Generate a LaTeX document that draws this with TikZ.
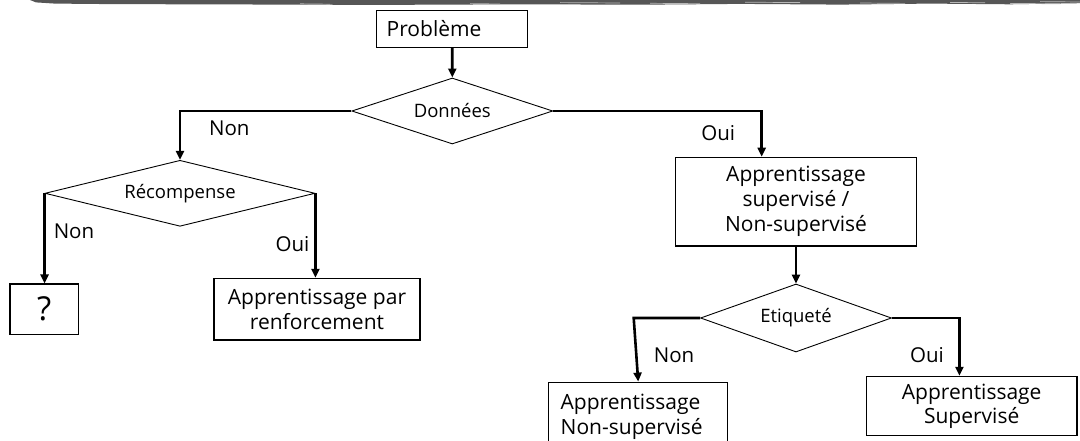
\documentclass[tikz,border=0pt]{standalone}
\usepackage{fontspec}
\setmainfont{Open Sans}
\usetikzlibrary{shapes.geometric,arrows.meta}
\definecolor{bargray}{HTML}{565656}
\definecolor{barlight}{HTML}{B8B8B8}
\begin{document}
\begin{tikzpicture}[x=1pt,y=-1pt,
  box/.style={draw, line width=1.2pt, inner sep=0pt, align=center,
    font=\fontsize{21}{25}\selectfont},
  choice/.style={diamond, draw, line width=0.9pt, inner sep=0pt, aspect=3,
    font=\fontsize{18.5}{22}\selectfont},
  lbl/.style={inner sep=0pt, font=\fontsize{20.5}{24}\selectfont},
  flow/.style={line width=2.6pt, -{Triangle[length=9pt,width=8pt]}}
]
\clip (0,0) rectangle (1080,441);
\fill[white] (0,0) rectangle (1080,441);

% brush-stroke rule along the top edge
\fill[bargray] (30,0) -- (1080,0) -- (1080,3.2) -- (1010,4.3) -- (930,3.6)
  -- (840,4.6) -- (740,3.9) -- (640,4.7) -- (520,4.3) -- (380,4.9)
  -- (220,4.4) -- (110,4.1) -- (55,3.6) -- (36,2.4) -- cycle;
\foreach \xa/\xb/\ya in {560/620/2.6, 650/700/3.3, 745/800/2.2, 860/905/3.0,
  950/985/2.4, 1010/1060/3.4, 1040/1080/1.6, 300/330/3.8, 470/500/3.6}
  \draw[barlight, line width=0.7pt] (\xa,\ya) -- (\xb,\ya+0.4);

% decision tree
\node[box, minimum height=37pt, text width=131pt, inner xsep=10pt, align=left]
  (prob) at (452.2,28.9) {Problème};
\node[choice, minimum width=201pt, minimum height=66pt] (don) at (452.3,111) {Données};
\node[choice, minimum width=270pt, minimum height=66pt] (rec) at (180,193.3) {Récompense};
\node[box, minimum width=68.3pt, minimum height=50.3pt,
  font=\fontsize{33}{36}\selectfont] (q) at (44.2,309.2) {?};
\node[box, minimum width=206pt, minimum height=61.7pt] (renf) at (317,309.2)
  {Apprentissage par\\renforcement};
\node[box, minimum width=240.6pt, minimum height=88.7pt] (sup) at (796,201.7)
  {Apprentissage\\supervisé /\\Non-supervisé};
\node[choice, minimum width=191pt, minimum height=68pt] (eti) at (796,318) {Etiqueté};
\node[box, anchor=north, text width=155pt, inner xsep=12pt, inner ysep=12pt, align=left]
  (nsup) at (638.2,381.6) {Apprentissage\\Non-supervisé};
\node[box, minimum width=210.6pt, minimum height=59.4pt,
  font=\fontsize{21}{24}\selectfont] (sv) at (971.7,406.1) {Apprentissage\\Supervisé};

% connectors
\draw[flow] (prob.south) -- (don.north);
\draw[flow] (don.west) -| (rec.north);
\draw[flow] (don.east) -| ([xshift=-34.3pt]sup.north);
\draw[flow] (rec.west) -- (rec.west |- q.north);
\draw[flow] (rec.east) -- (rec.east |- renf.north);
\draw[flow] (sup.south) -- (eti.north);
\draw[flow] (eti.west) -- ([xshift=-4.5pt]eti.west -| nsup.north) -- (nsup.north);
\draw[flow] (eti.east) -| ([xshift=-12.3pt]sv.north);

% branch labels
\node[lbl] (l1) at (229.3,128.5) {Non};
\node[lbl] (l2) at (718.3,133) {Oui};
\node[lbl] (l3) at (74,231.5) {Non};
\node[lbl] (l4) at (292.5,244) {Oui};
\node[lbl] (l5) at (674,355.5) {Non};
\node[lbl] (l6) at (927,355) {Oui};
\end{tikzpicture}
\end{document}
